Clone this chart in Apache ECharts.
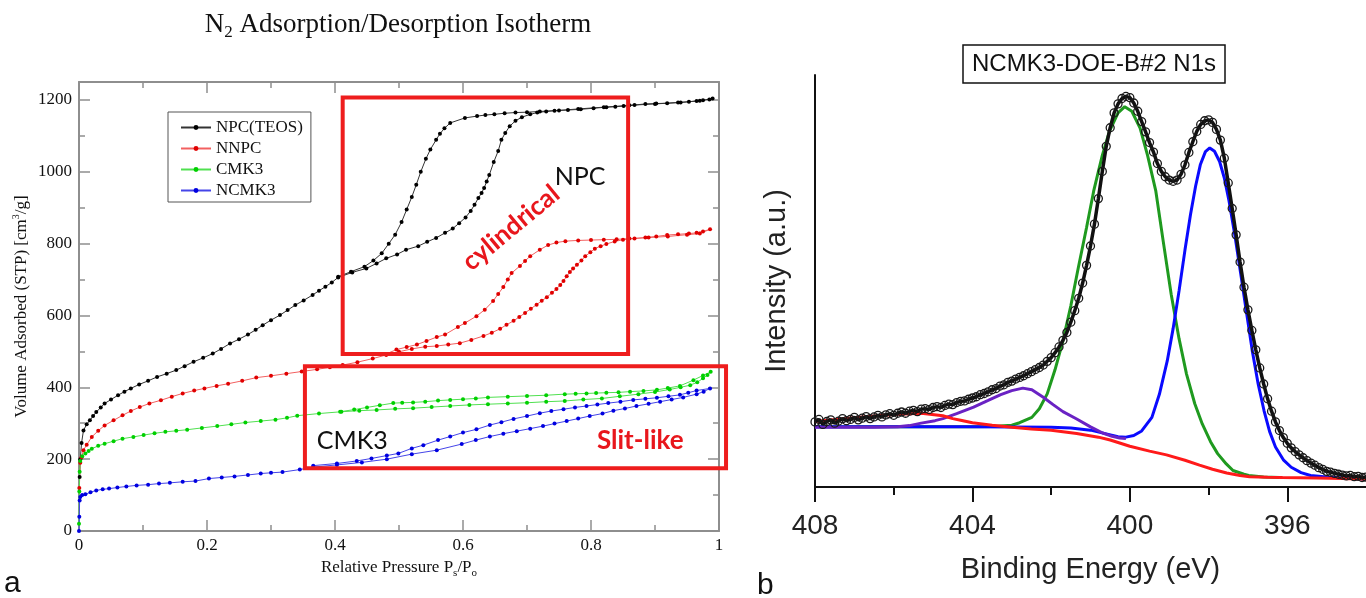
<!DOCTYPE html>
<html><head><meta charset="utf-8">
<script src="https://cdn.jsdelivr.net/npm/echarts@6/dist/echarts.min.js"></script>
<style>html,body{margin:0;padding:0;background:#fff}#c{width:1366px;height:598px}</style>
</head><body><div id="c"></div>
<script>
// ---------- Panel a: N2 isotherms (adsorption branch followed by desorption branch) ----------
const npcTeos = [[0.001,150],[0.002,200],[0.004,245],[0.007,280],[0.012,297],[0.017,308],[0.022,320],[0.027,331],[0.034,344],[0.04,355],[0.05,366],[0.061,378],[0.071,388],[0.081,397],[0.094,408],[0.108,418],[0.122,429],[0.137,438],[0.152,448],[0.165,459],[0.179,471],[0.194,482],[0.209,494],[0.222,507],[0.236,522],[0.25,534],[0.264,547],[0.276,560],[0.287,573],[0.3,587],[0.314,601],[0.326,615],[0.338,629],[0.351,642],[0.365,657],[0.375,669],[0.385,680],[0.395,692],[0.405,706],[0.427,720],[0.449,731],[0.465,745],[0.48,759],[0.497,770],[0.511,783],[0.53,793],[0.544,805],[0.558,816],[0.572,830],[0.584,842],[0.594,857],[0.604,873],[0.612,891],[0.618,908],[0.624,927],[0.629,941],[0.633,955],[0.637,973],[0.641,991],[0.648,1027],[0.655,1058],[0.66,1089],[0.666,1108],[0.673,1127],[0.682,1142],[0.692,1152],[0.705,1160],[0.716,1165],[0.73,1168],[0.743,1170],[0.764,1172],[0.784,1174],[0.804,1177],[0.824,1180],[0.838,1181],[0.851,1183],[0.868,1186],[0.885,1189],[0.902,1190],[0.919,1191],[0.936,1193],[0.953,1195],[0.965,1197],[0.975,1199],[0.985,1201],[0.99,1204],
  [0.97,1198],[0.94,1193],[0.9,1189],[0.86,1185],[0.82,1180],[0.78,1175],[0.75,1171],[0.72,1168],[0.7,1166],[0.682,1165],[0.665,1163],[0.649,1160],[0.635,1158],[0.622,1155],[0.603,1150],[0.58,1136],[0.571,1121],[0.564,1106],[0.558,1089],[0.549,1062],[0.542,1036],[0.534,1000],[0.527,964],[0.52,930],[0.512,895],[0.504,860],[0.494,825],[0.484,800],[0.473,773],[0.46,753],[0.446,736],[0.425,722],[0.405,708]];
const nnpc = [[0.0005,120],[0.002,190],[0.004,205],[0.007,225],[0.012,240],[0.02,262],[0.03,279],[0.04,294],[0.054,308],[0.068,322],[0.081,334],[0.095,345],[0.11,355],[0.128,364],[0.145,374],[0.162,383],[0.18,391],[0.196,397],[0.215,404],[0.233,410],[0.255,418],[0.277,427],[0.3,432],[0.324,438],[0.348,444],[0.372,450],[0.392,456],[0.412,462],[0.435,470],[0.459,480],[0.48,490],[0.5,499],[0.52,507],[0.541,513],[0.559,515],[0.577,519],[0.595,523],[0.613,532],[0.632,543],[0.645,552],[0.658,563],[0.668,574],[0.679,585],[0.688,596],[0.697,607],[0.706,619],[0.715,630],[0.723,641],[0.731,651],[0.739,663],[0.746,674],[0.752,685],[0.757,696],[0.762,709],[0.767,721],[0.772,731],[0.778,741],[0.785,753],[0.791,765],[0.799,776],[0.806,786],[0.815,793],[0.824,799],[0.837,806],[0.85,811],[0.868,814],[0.885,817],[0.902,820],[0.919,824],[0.936,826],[0.953,828],[0.965,830],[0.975,834],[0.986,840],
  [0.97,828],[0.95,825],[0.92,820],[0.89,817],[0.86,814],[0.84,812],[0.82,811],[0.8,810],[0.78,809],[0.76,807],[0.746,803],[0.733,796],[0.72,783],[0.705,765],[0.697,752],[0.689,738],[0.676,718],[0.67,700],[0.663,679],[0.655,660],[0.647,640],[0.634,616],[0.621,598],[0.603,579],[0.592,568],[0.572,547],[0.559,540],[0.543,529],[0.528,519],[0.512,512],[0.496,505],[0.48,493]];
const cmk3 = [[0,20],[0.0005,110],[0.001,165],[0.002,195],[0.005,208],[0.01,216],[0.015,223],[0.02,229],[0.03,237],[0.04,243],[0.054,250],[0.068,257],[0.085,262],[0.101,267],[0.118,272],[0.135,276],[0.152,279],[0.169,282],[0.192,287],[0.216,292],[0.238,297],[0.26,302],[0.284,306],[0.307,310],[0.325,315],[0.341,321],[0.375,327],[0.41,332],[0.438,335],[0.465,337],[0.494,340],[0.522,342],[0.551,345],[0.58,348],[0.61,351],[0.639,353],[0.67,355],[0.7,357],[0.73,360],[0.759,362],[0.788,366],[0.817,369],[0.845,375],[0.874,381],[0.9,387],[0.923,394],[0.94,400],[0.955,406],[0.966,414],[0.975,425],[0.982,434],[0.987,443],
  [0.975,433],[0.96,420],[0.939,404],[0.92,398],[0.903,393],[0.882,390],[0.861,388],[0.843,386],[0.824,385],[0.808,384],[0.793,383],[0.776,382],[0.759,381],[0.73,378],[0.7,376],[0.67,374],[0.639,372],[0.62,369],[0.6,367],[0.58,365],[0.561,363],[0.541,360],[0.522,358],[0.505,357],[0.491,356],[0.47,350],[0.45,344],[0.43,338],[0.408,332]];
const ncmk3 = [[0,0],[0.0005,40],[0.001,85],[0.002,95],[0.005,100],[0.01,102],[0.018,108],[0.027,113],[0.037,116],[0.047,118],[0.06,121],[0.074,124],[0.09,127],[0.108,129],[0.125,132],[0.142,134],[0.162,137],[0.182,139],[0.203,146],[0.223,149],[0.243,152],[0.264,156],[0.284,160],[0.3,162],[0.318,164],[0.345,171],[0.366,178],[0.403,184],[0.442,191],[0.481,200],[0.52,214],[0.559,225],[0.598,242],[0.62,253],[0.642,263],[0.663,271],[0.684,278],[0.705,285],[0.725,292],[0.743,299],[0.762,306],[0.78,313],[0.798,320],[0.818,327],[0.835,335],[0.853,341],[0.871,348],[0.89,354],[0.908,360],[0.926,366],[0.944,372],[0.965,381],[0.976,388],[0.986,397],
  [0.965,391],[0.952,385],[0.939,379],[0.921,375],[0.903,371],[0.885,368],[0.866,365],[0.846,360],[0.827,356],[0.81,352],[0.793,348],[0.775,344],[0.757,339],[0.738,334],[0.72,328],[0.7,320],[0.679,312],[0.66,303],[0.642,295],[0.621,283],[0.6,274],[0.58,263],[0.561,253],[0.538,239],[0.52,230],[0.499,216],[0.481,210],[0.457,202],[0.434,195],[0.403,188],[0.366,182]];
const isoXTicks = [0, 0.2, 0.4, 0.6, 0.8, 1];
const isoYMajor = [0, 200, 400, 600, 800, 1000, 1200];
const isoYMinor = [100, 300, 500, 700, 900, 1100];

// ---------- Panel b: XPS N1s ----------
const xpsRaw = [[408.0,15.8],[407.9,16.4],[407.8,15.2],[407.7,15.9],[407.6,16.3],[407.5,15.5],[407.4,16.0],[407.3,16.6],[407.2,16.1],[407.1,16.4],[407.0,16.9],[406.9,16.3],[406.8,16.7],[406.7,17.1],[406.6,16.6],[406.5,17.0],[406.4,17.4],[406.3,17.0],[406.2,17.5],[406.1,17.8],[406.0,17.4],[405.9,17.9],[405.8,18.2],[405.7,17.9],[405.6,18.4],[405.5,18.6],[405.4,18.3],[405.3,18.9],[405.2,19.0],[405.1,18.8],[405.0,19.3],[404.9,19.5],[404.8,19.3],[404.7,19.8],[404.6,20.1],[404.5,20.0],[404.4,20.5],[404.3,20.8],[404.2,20.9],[404.1,21.3],[404.0,21.6],[403.9,21.9],[403.8,22.4],[403.7,22.7],[403.6,23.1],[403.5,23.6],[403.4,23.9],[403.3,24.5],[403.2,24.8],[403.1,25.4],[403.0,25.7],[402.9,26.2],[402.8,26.6],[402.7,27.0],[402.6,27.5],[402.5,28.0],[402.4,28.5],[402.3,29.0],[402.2,29.6],[402.1,30.5],[402.0,31.4],[401.9,32.6],[401.8,34.0],[401.7,35.6],[401.6,37.5],[401.5,40.0],[401.4,42.8],[401.3,45.8],[401.2,49.5],[401.1,53.8],[401.0,58.5],[400.9,63.8],[400.8,70.0],[400.7,76.6],[400.6,82.7],[400.5,87.2],[400.4,90.8],[400.3,93.0],[400.2,94.3],[400.1,94.8],[400.0,94.5],[399.9,93.2],[399.8,91.2],[399.7,88.7],[399.6,86.2],[399.5,83.6],[399.4,81.3],[399.3,78.5],[399.2,76.6],[399.1,75.3],[399.0,74.5],[398.9,74.2],[398.8,74.5],[398.7,75.9],[398.6,78.2],[398.5,81.2],[398.4,83.8],[398.3,86.3],[398.2,88.0],[398.1,88.9],[398.0,89.1],[397.9,88.5],[397.8,86.8],[397.7,84.2],[397.6,79.8],[397.5,73.8],[397.4,67.6],[397.3,61.2],[397.2,54.6],[397.1,48.5],[397.0,43.0],[396.9,38.0],[396.8,33.3],[396.7,28.9],[396.6,25.0],[396.5,21.4],[396.4,18.4],[396.3,15.8],[396.2,13.7],[396.1,12.0],[396.0,10.6],[395.9,9.5],[395.8,8.6],[395.7,7.8],[395.6,7.1],[395.5,6.4],[395.4,5.8],[395.3,5.3],[395.2,4.7],[395.1,4.3],[395.0,3.8],[394.9,3.6],[394.8,3.3],[394.7,3.1],[394.6,2.9],[394.5,2.7],[394.4,2.8],[394.3,2.5],[394.2,2.6],[394.1,2.3],[394.0,2.4]];
const xpsBackground = [[408,15.9],[407,16.8],[406,17.6],[405.3,17.9],[404.75,17.3],[404.5,16.6],[404.3,16.2],[404,15.6],[403.5,15.0],[403,14.5],[402.5,14.1],[402,13.8],[401.35,13.0],[400.8,12.1],[400.5,11.4],[400,9.9],[399.5,8.7],[399.07,7.8],[398.6,6.5],[398.23,5.3],[397.9,4.3],[397.54,3.4],[397.2,2.8],[396.96,2.5],[396.5,2.35],[396.12,2.3],[395.26,2.2],[394.6,2.05],[394,1.9]];
const xpsPeakGreen = [[408,14.6],[406,14.6],[404,14.6],[403.5,14.7],[403.0,15.0],[402.8,15.6],[402.49,16.9],[402.3,19.0],[402.1,22.6],[401.9,28.5],[401.7,35.5],[401.5,44.0],[401.31,53.2],[401.1,63.0],[400.92,71.8],[400.7,80.5],[400.52,86.3],[400.3,90.8],[400.13,92.3],[399.95,91.2],[399.74,87.1],[399.55,80.5],[399.34,71.8],[399.15,59.5],[398.95,46.8],[398.75,36.0],[398.56,27.4],[398.35,20.2],[398.16,15.3],[397.95,11.0],[397.77,8.1],[397.55,5.6],[397.38,4.0],[397.1,3.1],[396.98,2.8],[396.6,2.45],[396.2,2.3]];
const xpsPeakBlue = [[408,14.6],[404,14.6],[402,14.5],[401.5,14.3],[401.0,13.8],[400.6,12.9],[400.3,12.2],[400.1,12.1],[399.9,12.5],[399.7,13.6],[399.44,16.9],[399.25,22.5],[399.05,30.6],[398.9,38.5],[398.75,47.6],[398.6,57.5],[398.46,66.1],[398.33,73.0],[398.21,78.2],[398.08,81.4],[397.97,82.3],[397.85,81.5],[397.72,79.0],[397.6,75.0],[397.48,69.4],[397.33,61.0],[397.18,51.6],[397.03,42.0],[396.89,33.1],[396.74,25.0],[396.59,18.5],[396.45,13.5],[396.3,9.7],[396.1,6.6],[395.9,4.8],[395.65,3.5],[395.41,2.8],[395.0,2.4],[394.5,2.1],[394,1.95]];
const xpsPeakPurple = [[408,14.5],[406.5,14.5],[405.9,14.6],[405.6,14.9],[405.3,15.5],[404.95,16.1],[404.75,16.6],[404.4,17.8],[403.97,19.4],[403.6,21.0],[403.28,22.4],[403.0,23.4],[402.72,24.0],[402.49,23.6],[402.2,21.8],[401.95,20.0],[401.7,18.3],[401.35,16.5],[401.0,14.6],[400.69,13.1],[400.45,12.3],[400.26,11.9],[400.1,11.8]];
const xpsMajorTicks = [408, 404, 400, 396];
const xpsMinorTicks = [406, 402, 398];

const serif = 'Liberation Serif', sans = 'Liberation Sans', calibri = 'Lato';
const gray = '#8e8e8e';
const chart = echarts.init(document.getElementById('c'));

function isoSeries(name, data, dot, line) {
  return { name, type: 'line', xAxisIndex: 0, yAxisIndex: 0, data,
    symbol: 'circle', symbolSize: 4, showAllSymbol: true,
    itemStyle: { color: dot }, lineStyle: { color: line, width: 1 } };
}
function fitSeries(name, data, color) {
  return { name, type: 'line', xAxisIndex: 2, yAxisIndex: 4, data, symbol: 'none',
    lineStyle: { color, width: 3 }, z: 3 };
}
const subRich = { sub: { fontFamily: serif, fontSize: 11, verticalAlign: 'bottom', lineHeight: 22 },
                  sup: { fontFamily: serif, fontSize: 10, verticalAlign: 'top', lineHeight: 22 },
                  n: { fontFamily: serif, fontSize: 17, lineHeight: 22 } };
const frameTick = { inside: true, length: 11, lineStyle: { color: gray, width: 1.5 } };
const frameLine = { onZero: false, lineStyle: { color: gray, width: 2 } };

chart.setOption({
  animation: false,
  grid: [{ left: 79, right: 647, top: 82, bottom: 67 }, { left: 815, right: 0, top: 75, bottom: 111 }],
  legend: {
    data: ['NPC(TEOS)', 'NNPC', 'CMK3', 'NCMK3'], orient: 'vertical', left: 168, top: 112,
    itemWidth: 30, itemHeight: 6, itemGap: 4, padding: [7, 8, 3, 12],
    borderColor: '#555', borderWidth: 1, borderRadius: 0,
    textStyle: { fontFamily: serif, fontSize: 17, color: '#111', lineHeight: 15 }
  },
  xAxis: [
    { gridIndex: 0, type: 'value', min: 0, max: 1, interval: 0.2, position: 'bottom',
      axisLine: frameLine, axisTick: frameTick,
      minorTick: { show: true, splitNumber: 2, length: 6, lineStyle: { color: gray, width: 1.5 } },
      splitLine: { show: false }, minorSplitLine: { show: false },
      axisLabel: { color: '#111', fontFamily: serif, fontSize: 17, margin: 6,
        customValues: isoXTicks, formatter: v => String(v) },
      name: '{n|Relative Pressure P}{sub|s}{n|/P}{sub|o}', nameLocation: 'middle', nameGap: 18,
      nameTextStyle: { color: '#111', rich: subRich } },
    { gridIndex: 0, type: 'value', min: 0, max: 1, interval: 0.2, position: 'top',
      axisLine: frameLine, axisTick: frameTick,
      minorTick: { show: true, splitNumber: 2, length: 6, lineStyle: { color: gray, width: 1.5 } },
      splitLine: { show: false }, axisLabel: { show: false } },
    { gridIndex: 1, type: 'value', min: 394, max: 408, inverse: true, position: 'bottom',
      axisLine: { onZero: false, lineStyle: { color: '#111', width: 2 } },
      axisTick: { customValues: xpsMajorTicks, length: 15, lineStyle: { color: '#111', width: 2 } },
      axisLabel: { customValues: xpsMajorTicks, color: '#222', fontFamily: sans, fontSize: 28, margin: 25 },
      splitLine: { show: false },
      name: 'Binding Energy (eV)', nameLocation: 'middle', nameGap: 68,
      nameTextStyle: { color: '#222', fontFamily: sans, fontSize: 29 } },
    { gridIndex: 1, type: 'value', min: 394, max: 408, inverse: true, position: 'bottom',
      axisLine: { show: false, onZero: false },
      axisTick: { customValues: xpsMinorTicks, length: 8, lineStyle: { color: '#111', width: 2 } },
      axisLabel: { show: false }, splitLine: { show: false } }
  ],
  yAxis: [
    { gridIndex: 0, type: 'value', min: 0, max: 1250, position: 'left',
      axisLine: frameLine, axisTick: Object.assign({ customValues: isoYMajor }, frameTick),
      axisLabel: { customValues: isoYMajor, color: '#111', fontFamily: serif, fontSize: 17, margin: 7,
        formatter: v => String(v) },
      splitLine: { show: false },
      name: '{n|Volume Adsorbed (STP) [cm}{sup|3}{n|/g]}', nameLocation: 'middle', nameGap: 46,
      nameTextStyle: { color: '#111', rich: subRich } },
    { gridIndex: 0, type: 'value', min: 0, max: 1250, position: 'right',
      axisLine: frameLine, axisTick: Object.assign({ customValues: isoYMajor }, frameTick),
      axisLabel: { show: false }, splitLine: { show: false } },
    { gridIndex: 0, type: 'value', min: 0, max: 1250, position: 'left',
      axisLine: { show: false, onZero: false },
      axisTick: { inside: true, length: 6, customValues: isoYMinor, lineStyle: { color: gray, width: 1.5 } },
      axisLabel: { show: false }, splitLine: { show: false } },
    { gridIndex: 0, type: 'value', min: 0, max: 1250, position: 'right',
      axisLine: { show: false, onZero: false },
      axisTick: { inside: true, length: 6, customValues: isoYMinor, lineStyle: { color: gray, width: 1.5 } },
      axisLabel: { show: false }, splitLine: { show: false } },
    { gridIndex: 1, type: 'value', min: 0, max: 100, position: 'left',
      axisLine: { onZero: false, lineStyle: { color: '#111', width: 2 } },
      axisTick: { show: false }, axisLabel: { show: false }, splitLine: { show: false },
      name: 'Intensity (a.u.)', nameLocation: 'middle', nameGap: 24,
      nameTextStyle: { color: '#222', fontFamily: sans, fontSize: 29 } }
  ],
  series: [
    isoSeries('NPC(TEOS)', npcTeos, '#000000', '#333333'),
    isoSeries('NNPC', nnpc, '#e00000', '#f26060'),
    isoSeries('CMK3', cmk3, '#00d000', '#50e050'),
    isoSeries('NCMK3', ncmk3, '#0000e0', '#4545e8'),
    fitSeries('Peak 400.1 eV', xpsPeakGreen, '#1f9a1f'),
    fitSeries('Peak 398.0 eV', xpsPeakBlue, '#0a0aff'),
    fitSeries('Peak 402.7 eV', xpsPeakPurple, '#6a22c4'),
    fitSeries('Background', xpsBackground, '#ff1a1a'),
    { name: 'Raw data', type: 'line', xAxisIndex: 2, yAxisIndex: 4, data: xpsRaw, z: 5,
      symbol: 'circle', symbolSize: 8, showAllSymbol: true,
      itemStyle: { color: 'rgba(255,255,255,0)', borderColor: '#1a1a1a', borderWidth: 1.3 },
      lineStyle: { color: '#111', width: 3.5 } }
  ]
});

// annotations anchored in data coordinates of panel a
const P = (x, y) => chart.convertToPixel({ gridIndex: 0 }, [x, y]);
function box(x0, y0, x1, y1) {
  const a = P(x0, y0), b = P(x1, y1);
  return { type: 'rect', z: 10, shape: { x: a[0], y: a[1], width: b[0] - a[0], height: b[1] - a[1] },
    style: { fill: 'none', stroke: '#ee1d1d', lineWidth: 4 } };
}
function label(x, y, text, font, fill, rotation) {
  const a = P(x, y);
  return { type: 'text', z: 10, x: a[0], y: a[1], rotation: rotation || 0,
    style: { text, font, fill, align: 'center', verticalAlign: 'middle' } };
}
chart.setOption({
  graphic: [
    box(0.412, 1207, 0.858, 493),
    box(0.353, 459, 1.011, 175),
    label(0.675, 844, 'cylindrical', 'bold 26px ' + calibri, '#e8161c', 0.693),
    label(0.783, 986, 'NPC', '25px ' + calibri, '#111'),
    label(0.427, 251, 'CMK3', '25px ' + calibri, '#111'),
    label(0.877, 251, 'Slit-like', 'bold 26px ' + calibri, '#e8161c'),
    { type: 'text', x: 398, y: 25, style: { text: '{t|N}{s|2}{t| Adsorption/Desorption Isotherm}',
        align: 'center', verticalAlign: 'middle', fill: '#111',
        rich: { t: { fontFamily: serif, fontSize: 27, lineHeight: 32, fill: '#111' },
                s: { fontFamily: serif, fontSize: 17, lineHeight: 32, verticalAlign: 'bottom', fill: '#111' } } } },
    { type: 'rect', shape: { x: 963, y: 45, width: 262, height: 38 }, style: { fill: '#fff', stroke: '#111', lineWidth: 1.5 } },
    { type: 'text', x: 1094, y: 64, style: { text: 'NCMK3-DOE-B#2 N1s', font: '24px ' + sans, fill: '#111', align: 'center', verticalAlign: 'middle' } },
    { type: 'text', x: 4, y: 584, style: { text: 'a', font: '30px ' + sans, fill: '#111', align: 'left', verticalAlign: 'middle' } },
    { type: 'text', x: 757, y: 586, style: { text: 'b', font: '30px ' + sans, fill: '#111', align: 'left', verticalAlign: 'middle' } }
  ]
});
</script></body></html>
